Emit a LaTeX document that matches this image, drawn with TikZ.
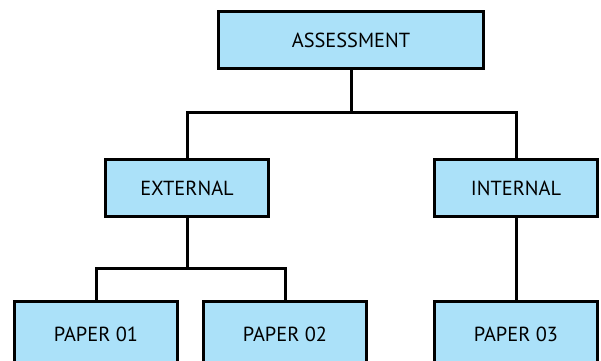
\documentclass[tikz,border=0pt]{standalone}
\usepackage{fontspec}
\setmainfont{PT Sans}
\usetikzlibrary{positioning}
\usetikzlibrary{calc}
\definecolor{boxblue}{RGB}{171,225,249}

\begin{document}
\begin{tikzpicture}[x=0.02cm,y=-0.02cm]
		
		\tikzset{block/.style = {shape=rectangle,draw,fill=boxblue,line width=0.06cm,minimum width=3.28cm,minimum height=1.14cm,font=\fontsize{11.6}{13}\selectfont}}
		\tikzset{wide/.style = {block,minimum width=5.3cm}}
		\tikzset{edge/.style = {line width=0.06cm}}
		\clip (0,0) rectangle (601,360);
		% vertices
		\node[wide] (assess) at (351,40) {ASSESSMENT};
		\node[block] (ext) at (187,188) {EXTERNAL};
		\node[block] (int) at (516,188) {INTERNAL};
		
		\node[block, minimum height=1.3cm] (p1) at (96,334) {PAPER 01};
		\node[block, minimum height=1.3cm] (p2) at (285,334) {PAPER 02};
		\node[block, minimum height=1.3cm] (p3) at (516,334) {PAPER 03};
		
		\coordinate (j1) at (351,112);
		\coordinate (j2) at (187,268);
		
		%edges
		\draw[edge] (assess) -- (j1);
		
		\draw[edge] (ext.north) |- (j1) -| (int.north);
		
		\draw[edge] (ext) -- (j2);
		
		\draw[edge] (p1.north) |- (j2) -| (p2.north);
		
		\draw[edge] (int) -- (p3);
		
		
\end{tikzpicture}
\end{document}
